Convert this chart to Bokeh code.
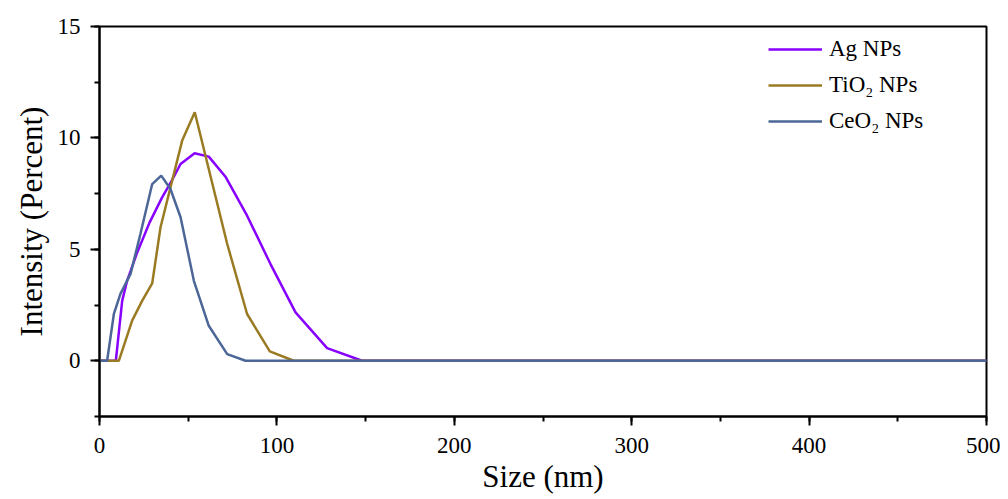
from bokeh.plotting import figure
from bokeh.models import Range1d, SingleIntervalTicker, Legend, LegendItem
from bokeh.embed import file_html
from bokeh.resources import INLINE

# Data
ag_size = [0, 9.2, 12.8, 15.6, 21.2, 28.2, 35.3, 40.5, 45.7, 53.6, 61.6, 71.0, 83.2, 96.4, 110.5, 128.3, 148.0, 500]
ag_int = [0, 0, 2.7, 3.6, 4.85, 6.2, 7.33, 8.05, 8.83, 9.31, 9.16, 8.26, 6.51, 4.34, 2.17, 0.57, 0, 0]

tio2_size = [0, 10.9, 18.4, 24.1, 29.7, 34.4, 46.6, 53.7, 72.0, 83.2, 96.0, 109.5, 500]
tio2_int = [0, 0, 1.8, 2.7, 3.47, 5.99, 9.88, 11.15, 5.24, 2.1, 0.42, 0, 0]

ceo2_size = [0, 4.3, 8.1, 11.8, 17.5, 23.1, 29.7, 34.8, 40.0, 45.7, 53.2, 61.6, 72.0, 82.3, 500]
ceo2_int = [0, 0, 2.1, 3.0, 3.9, 5.7, 7.93, 8.31, 7.71, 6.44, 3.59, 1.57, 0.3, 0, 0]

labels = ["Ag NPs", "TiO\u2082 NPs", "CeO\u2082 NPs"]
colors = ["#8800FF", "#9A7B24", "#4C6797"]

FONT = "Liberation Serif"

p = figure(width=1000, height=499, output_backend="svg", toolbar_location=None,
           x_range=Range1d(0, 500), y_range=Range1d(-2.5, 15),
           min_border_left=99, min_border_right=14, min_border_top=26, min_border_bottom=83)
p.grid.visible = False
p.outline_line_color = "black"
p.outline_line_width = 2
p.background_fill_color = "white"
p.border_fill_color = "white"

r1 = p.line(ag_size, ag_int, line_color=colors[0], line_width=2.5)
r2 = p.line(tio2_size, tio2_int, line_color=colors[1], line_width=2.5)
r3 = p.line(ceo2_size, ceo2_int, line_color=colors[2], line_width=2.5)

p.xaxis.ticker = SingleIntervalTicker(interval=100, num_minor_ticks=2)
p.yaxis.ticker = SingleIntervalTicker(interval=5, num_minor_ticks=2)

for ax in (p.xaxis[0], p.yaxis[0]):
    ax.axis_line_width = 2
    ax.axis_line_color = "black"
    ax.major_tick_in = 0
    ax.major_tick_out = 9
    ax.minor_tick_in = 0
    ax.minor_tick_out = 5
    ax.major_tick_line_width = 2
    ax.minor_tick_line_width = 2
    ax.major_label_text_font = FONT
    ax.major_label_text_font_size = "23px"
    ax.major_label_text_color = "black"
    ax.axis_label_text_font = FONT
    ax.axis_label_text_font_size = "31px"
    ax.axis_label_text_font_style = "normal"
    ax.axis_label_text_color = "black"

p.xaxis.axis_label = "Size (nm)"
p.yaxis.axis_label = "Intensity (Percent)"
p.xaxis.major_label_standoff = 12
p.yaxis.major_label_standoff = 10
p.xaxis.axis_label_standoff = 3
p.yaxis.axis_label_standoff = 6

legend = Legend(items=[LegendItem(label=labels[0], renderers=[r1]),
                       LegendItem(label=labels[1], renderers=[r2]),
                       LegendItem(label=labels[2], renderers=[r3])],
                location=(669, 282))
legend.border_line_color = None
legend.background_fill_alpha = 0
legend.padding = 0
legend.margin = 0
legend.spacing = 10
legend.glyph_width = 54
legend.glyph_height = 24
legend.label_height = 24
legend.label_standoff = 7
legend.label_text_font = FONT
legend.label_text_font_size = "23px"
legend.label_text_color = "black"
p.add_layout(legend)

open("out.html", "w").write(file_html(p, INLINE))
